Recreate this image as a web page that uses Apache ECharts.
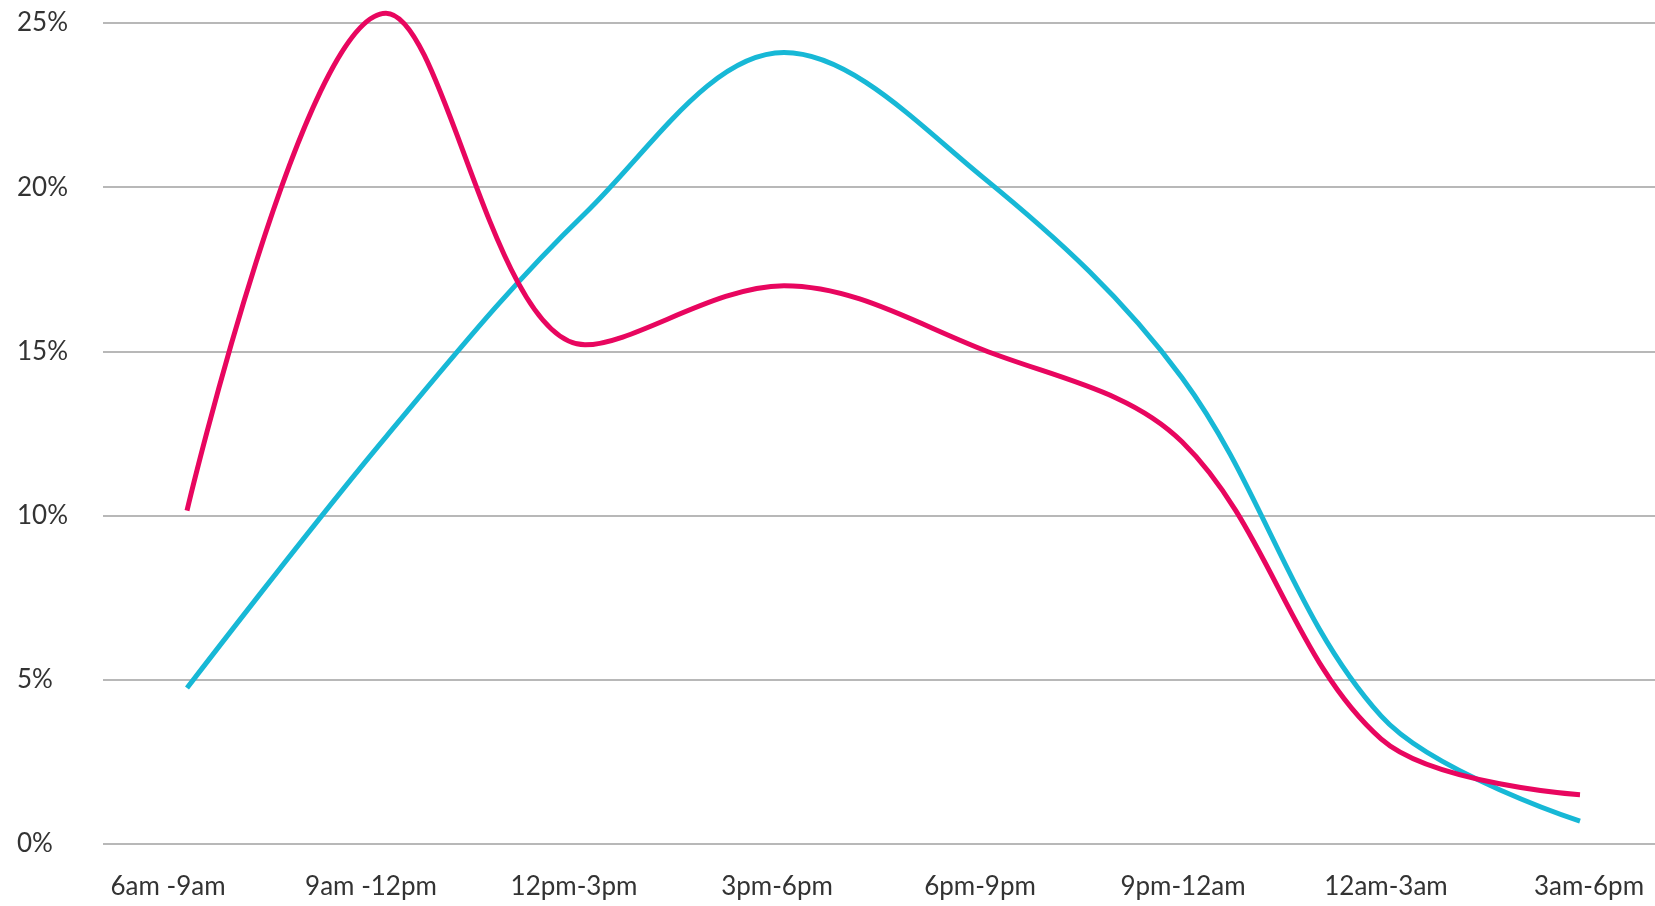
<!DOCTYPE html>
<html>
<head>
<meta charset="utf-8">
<script src="https://cdn.jsdelivr.net/npm/echarts@6/dist/echarts.min.js"></script>
<style>
html,body{margin:0;padding:0;background:#fff;}
#chart{width:1655px;height:906px;}
</style>
</head>
<body>
<div id="chart"></div>
<script>
const categories = ['6am -9am', '9am -12pm', '12pm-3pm', '3pm-6pm', '6pm-9pm', '9pm-12am', '12am-3am', '3am-6pm'];
const pinkValues = [10.15, 25.3, 15.2, 17.0, 15.05, 12.25, 3.2, 1.5];
const cyanValues = [4.75, 12.4, 19.2, 24.1, 20.3, 14.2, 3.9, 0.7];
const yTicks = [0, 5, 10, 15, 20, 25];

const FONT = 'Lato';
const chart = echarts.init(document.getElementById('chart'));
chart.setOption({
  animation: false,
  backgroundColor: '#ffffff',
  grid: [
    {left: 187, right: 75, top: 23, bottom: 62},
    {left: 103, right: 0, top: 23, bottom: 62},
    {left: 168, right: 66, top: 23, bottom: 62}
  ],
  xAxis: [
    {gridIndex: 0, type: 'category', data: categories, boundaryGap: false, show: false},
    {gridIndex: 1, type: 'value', min: 0, max: 1, show: false},
    {gridIndex: 2, type: 'category', data: categories, boundaryGap: false,
      axisLine: {show: false}, axisTick: {show: false}, splitLine: {show: false},
      axisLabel: {color: '#333333', fontFamily: FONT, fontSize: 26, margin: 30, interval: 0}}
  ],
  yAxis: [
    {gridIndex: 0, type: 'value', min: 0, max: 25, show: false},
    {gridIndex: 1, type: 'value', min: yTicks[0], max: yTicks[yTicks.length - 1], interval: 5,
      axisLine: {show: false}, axisTick: {show: false},
      splitLine: {lineStyle: {color: '#b8b8b8', width: 2}},
      axisLabel: {formatter: '{value}%', align: 'left', margin: 86, color: '#333333', fontFamily: FONT, fontSize: 26}},
    {gridIndex: 2, type: 'value', min: 0, max: 25, show: false}
  ],
  series: [
    {type: 'line', xAxisIndex: 0, yAxisIndex: 0, data: cyanValues, smooth: 0.35, showSymbol: false, clip: false,
      lineStyle: {color: '#17b8d6', width: 5}},
    {type: 'line', xAxisIndex: 0, yAxisIndex: 0, data: pinkValues, smooth: 0.35, showSymbol: false, clip: false,
      lineStyle: {color: '#e8065f', width: 5}}
  ]
});
</script>
</body>
</html>
